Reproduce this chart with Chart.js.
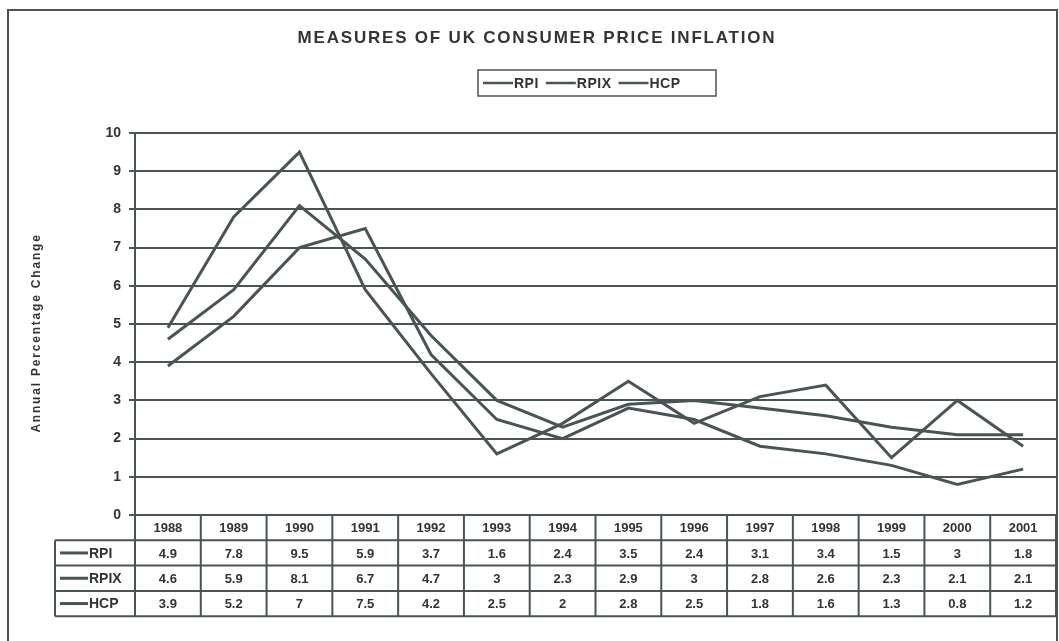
<!DOCTYPE html>
<html>
<head>
<meta charset="utf-8">
<script src="https://cdn.jsdelivr.net/npm/chart.js@4"></script>
<style>
  body { margin: 0; background: #fff; }
  #wrap { width: 1059px; height: 641px; }
</style>
</head>
<body>
<div id="wrap"><canvas id="cpi" width="1059" height="641"></canvas></div>
<script>
const years = ['1988', '1989', '1990', '1991', '1992', '1993', '1994', '1995', '1996', '1997', '1998', '1999', '2000', '2001'];
const rpi = [4.9, 7.8, 9.5, 5.9, 3.7, 1.6, 2.4, 3.5, 2.4, 3.1, 3.4, 1.5, 3, 1.8];
const rpix = [4.6, 5.9, 8.1, 6.7, 4.7, 3, 2.3, 2.9, 3, 2.8, 2.6, 2.3, 2.1, 2.1];
const hcp = [3.9, 5.2, 7, 7.5, 4.2, 2.5, 2, 2.8, 2.5, 1.8, 1.6, 1.3, 0.8, 1.2];
const seriesNames = ['RPI', 'RPIX', 'HCP'];

const ink = '#4b5454';
const textInk = '#333';
const fontName = '"Liberation Sans", Arial, sans-serif';

// title, legend box, axis title, data table and frame
const extras = {
  id: 'extras',
  afterDraw(chart) {
    const c = chart.ctx;
    const area = chart.chartArea;
    const xs = chart.scales.x;
    const sets = chart.data.datasets;
    c.save();

    // frame
    c.strokeStyle = ink;
    c.lineWidth = 2;
    c.strokeRect(8, 10, 1049, 660);

    // title
    c.fillStyle = textInk;
    c.font = 'bold 17px ' + fontName;
    c.letterSpacing = '1.8px';
    c.textAlign = 'center';
    c.textBaseline = 'middle';
    c.fillText('MEASURES OF UK CONSUMER PRICE INFLATION', 537, 38);

    // legend box
    c.font = 'bold 14px ' + fontName;
    c.letterSpacing = '0.5px';
    c.textAlign = 'left';
    c.lineWidth = 1.5;
    c.strokeRect(478, 70, 238, 26);
    let lx = 483;
    sets.forEach(ds => {
      c.strokeStyle = ink;
      c.lineWidth = 2.5;
      c.beginPath();
      c.moveTo(lx, 83);
      c.lineTo(lx + 30, 83);
      c.stroke();
      c.fillText(ds.label, lx + 31, 84);
      lx += 31 + c.measureText(ds.label).width + 7;
    });

    // y axis title
    c.save();
    c.translate(37, 333);
    c.rotate(-Math.PI / 2);
    c.textAlign = 'center';
    c.font = 'bold 12px ' + fontName;
    c.letterSpacing = '1.8px';
    c.fillText('Annual Percentage Change', 0, 0);
    c.restore();
    c.letterSpacing = '0px';

    // data table
    const half = (xs.getPixelForValue(1) - xs.getPixelForValue(0)) / 2;
    const top = area.bottom;
    const rowH = 25.3;
    const bottom = top + rowH * 4;
    const keyLeft = 55;
    c.strokeStyle = ink;
    c.lineWidth = 2;
    c.beginPath();
    // column separators
    for (let i = 0; i <= years.length; i++) {
      const x = i < years.length ? xs.getPixelForValue(i) - half : xs.getPixelForValue(years.length - 1) + half;
      c.moveTo(x, top);
      c.lineTo(x, bottom);
    }
    // row separators
    for (let r = 1; r <= 4; r++) {
      const y = top + rowH * r;
      c.moveTo(keyLeft, y);
      c.lineTo(area.right, y);
    }
    c.moveTo(keyLeft, top + rowH);
    c.lineTo(keyLeft, bottom);
    c.stroke();

    c.fillStyle = textInk;
    c.font = 'bold 13px ' + fontName;
    c.textAlign = 'center';
    years.forEach((yr, i) => {
      c.fillText(yr, xs.getPixelForValue(i), top + rowH / 2 + 1);
    });
    sets.forEach((ds, r) => {
      const cy = top + rowH * (r + 1.5);
      c.strokeStyle = ink;
      c.lineWidth = 3;
      c.beginPath();
      c.moveTo(keyLeft + 5, cy);
      c.lineTo(keyLeft + 33, cy);
      c.stroke();
      c.textAlign = 'left';
      c.font = 'bold 14px ' + fontName;
      c.fillText(ds.label, keyLeft + 34, cy + 1);
      c.textAlign = 'center';
      c.font = 'bold 13px ' + fontName;
      ds.data.forEach((v, i) => {
        c.fillText(String(v), xs.getPixelForValue(i), cy + 1);
      });
    });

    c.restore();
  }
};

const lineStyle = {
  borderColor: ink,
  borderWidth: 3,
  pointRadius: 0,
  tension: 0,
  fill: false
};

new Chart(document.getElementById('cpi'), {
  type: 'line',
  data: {
    labels: years,
    datasets: [
      Object.assign({ label: seriesNames[0], data: rpi }, lineStyle),
      Object.assign({ label: seriesNames[1], data: rpix }, lineStyle),
      Object.assign({ label: seriesNames[2], data: hcp }, lineStyle)
    ]
  },
  options: {
    responsive: false,
    animation: false,
    layout: { padding: { left: 8, top: 133, right: 3, bottom: 126 } },
    plugins: {
      legend: { display: false },
      title: { display: false },
      tooltip: { enabled: false }
    },
    scales: {
      x: {
        display: false,
        offset: true
      },
      y: {
        min: 0,
        max: 10,
        ticks: {
          stepSize: 1,
          color: textInk,
          padding: 8,
          font: { family: fontName, size: 14, weight: 'bold' }
        },
        grid: { color: ink, lineWidth: 2, tickLength: 6 },
        border: { color: ink, width: 2 },
        afterFit(scale) { scale.width = 127; }
      }
    }
  },
  plugins: [extras]
});
</script>
</body>
</html>
